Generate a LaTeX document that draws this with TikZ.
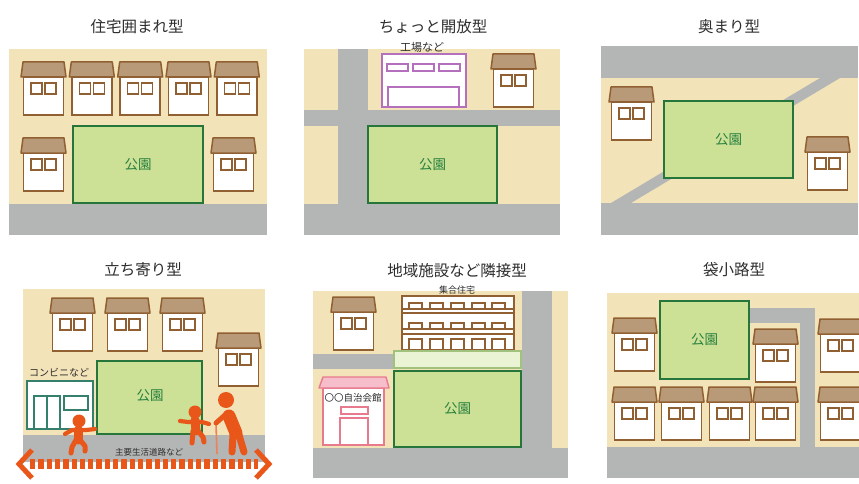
\documentclass[tikz,border=0pt]{standalone}
\usepackage{fontspec}
\newfontfamily\jp{Noto Sans CJK JP}
\definecolor{groundc}{RGB}{243,227,184}
\definecolor{roadc}{RGB}{180,181,181}
\definecolor{parkc}{RGB}{204,224,150}
\definecolor{parkline}{RGB}{38,118,60}
\definecolor{parktext}{RGB}{40,128,62}
\definecolor{roofc}{RGB}{184,154,120}
\definecolor{brownline}{RGB}{145,96,50}
\definecolor{titlec}{RGB}{45,45,45}
\definecolor{factoryc}{RGB}{180,112,188}
\definecolor{storec}{RGB}{52,128,108}
\definecolor{hallc}{RGB}{232,122,142}
\definecolor{hallroof}{RGB}{245,190,202}
\definecolor{stripc}{RGB}{234,243,211}
\definecolor{stripline}{RGB}{160,194,124}
\definecolor{personc}{RGB}{232,86,26}
\definecolor{canec}{RGB}{236,130,90}
\begin{document}
\begin{tikzpicture}[x=1pt,y=-1pt,
  ground/.style={fill=groundc},
  road/.style={fill=roadc},
  park/.style={draw=parkline, fill=parkc, line width=1.4pt, inner sep=0,
    font=\jp\fontsize{13.5}{14}\selectfont, text=parktext},
  title/.style={font=\jp\fontsize{15.5}{16}\selectfont, text=titlec, inner sep=0},
  tag/.style={font=\jp\fontsize{9.5}{10}\selectfont, text=titlec, inner sep=0},
  wall/.style={draw=brownline, fill=white, line width=1.5pt},
  roof/.style={draw=brownline, fill=roofc, line width=1.5pt, line join=round},
  win/.style={draw=brownline, fill=white, line width=1.4pt},
  person/.style={fill=personc},
  limb/.style={draw=personc, line cap=round, line join=round},
  pics/house/.style={code={
    \draw[wall] (2.5,15) rectangle (42.5,53);
    \draw[roof] (0,15) -- (2,0) -- (43,0) -- (45,15) -- cycle;
    \draw[win] (10,21) rectangle (21,32);
    \draw[win] (24,21) rectangle (35,32);
  }}]
\useasboundingbox (0,0) rectangle (859,484);
\clip (0,0) rectangle (859,484);

% ---------- 住宅囲まれ型 ----------
\node[title] (t1) at (137,27) {住宅囲まれ型};
\fill[ground] (9,49) rectangle (267,204);
\fill[road] (9,204) rectangle (267,235);
\foreach \hx in {21,69.3,117.7,166,214.3} \pic at (\hx,62) {house};
\pic at (21,138) {house};
\pic at (211,138) {house};
\node[park, minimum width=130, minimum height=77] (park1) at (138,164.5) {公園};

% ---------- ちょっと開放型 ----------
\node[title] (t2) at (433,27) {ちょっと開放型};
\fill[ground] (304,49) rectangle (560,204);
\fill[road] (338,49) rectangle (368,204);
\fill[road] (304,110) rectangle (560,126);
\fill[road] (304,204) rectangle (560,235);
% factory
\draw[draw=factoryc, fill=white, line width=1.4pt] (382,54) rectangle (466,107);
\foreach \wx in {387,413,439} \draw[draw=factoryc, line width=1.3pt] (\wx,64) rectangle ++(21,7);
\draw[draw=factoryc, line width=1.3pt] (388,107) -- (388,87) -- (459,87) -- (459,107);
\node[tag, font=\jp\fontsize{11}{12}\selectfont] (factorytag) at (422,47) {工場など};
\pic at (491,54) {house};
\node[park, minimum width=129, minimum height=77] (park2) at (432.5,164.5) {公園};

% ---------- 奥まり型 ----------
\node[title] (t3) at (729,27) {奥まり型};
\fill[road] (601,46) rectangle (858,78);
\fill[ground] (601,78) rectangle (858,203);
\fill[road] (601,203) rectangle (858,235);
\fill[road] (611,203) -- (631,203) -- (840,78) -- (820,78) -- cycle;
\node[park, minimum width=129, minimum height=77] (park3) at (728.5,139.5) {公園};
\pic at (609,87) {house};
\pic at (805,137) {house};

% ---------- 立ち寄り型 ----------
\node[title] (t4) at (143,270) {立ち寄り型};
\fill[ground] (23,289) rectangle (265,435);
\fill[road] (23,435) rectangle (265,462);
\foreach \hx in {50,105,160} \pic at (\hx,298) {house};
\pic at (216,333) {house};
\node[park, minimum width=105, minimum height=73] (park4) at (149.5,397.5) {};
\node[font=\jp\fontsize{13.5}{14}\selectfont, text=parktext] (park4tag) at (150,396) {公園};
% convenience store
\node[tag, font=\jp\fontsize{10}{11}\selectfont] (storetag) at (59,373) {コンビニなど};
\draw[draw=storec, fill=white, line width=1.4pt] (27,381) rectangle (93,429);
\draw[draw=storec, line width=1.3pt] (34,429) -- (34,396) -- (60,396) -- (60,429);
\draw[draw=storec, line width=1.3pt] (47,396) -- (47,429);
\draw[draw=storec, line width=1.3pt] (64,396) rectangle (88,410);
% road label and two-way arrow
\node[tag, font=\jp\fontsize{8.5}{9}\selectfont] (roadtag) at (149,452) {主要生活道路など};
\coordinate (arrowL) at (30,464);
\coordinate (arrowR) at (258,464);
\draw[personc, line width=10pt, dash pattern=on 5.3pt off 3pt] (arrowL) -- (arrowR);
\draw[personc, line width=5pt] (32,450) -- (19,464) -- (32,478);
\draw[personc, line width=5pt] (256,450) -- (269,464) -- (256,478);
% child walking
\fill[person] (79,421) circle (6.5);
\draw[limb, line width=9pt] (78,430) -- (78,440);
\draw[limb, line width=4.2pt] (65,434) -- (72,430) -- (86,430) -- (95,429);
\draw[limb, line width=5pt] (76,440) -- (72,447) -- (71,453);
\draw[limb, line width=5pt] (80,440) -- (85,446) -- (85,451);
% child by the elder
\fill[person] (195,412) circle (6.5);
\draw[limb, line width=9pt] (195,420) -- (196,431);
\draw[limb, line width=4.2pt] (180,421) -- (188,422) -- (202,422) -- (209,424);
\draw[limb, line width=5pt] (193,431) -- (192,443);
\draw[limb, line width=5pt] (198,431) -- (203,437) -- (204,442);
% elder with cane
\draw[canec, line width=1.6pt] (216,424) -- (217,454);
\fill[person] (226,400) circle (8);
\draw[limb, line width=13pt] (229,416) -- (236,433);
\draw[limb, line width=5pt] (225,415) -- (216,423);
\draw[limb, line width=7pt] (233,435) -- (232,452);
\draw[limb, line width=7pt] (239,435) -- (244,452);

% ---------- 地域施設など隣接型 ----------
\node[title] (t5) at (457,271) {地域施設など隣接型};
\fill[ground] (313,291) rectangle (568,448);
\fill[road] (522,291) rectangle (552,448);
\fill[road] (313,354) rectangle (393,369);
\fill[road] (313,448) rectangle (568,478);
\pic at (331,297) {house};
% apartment block
\draw[wall] (402,296) rectangle (514,350);
\foreach \fy in {309,313,329,334} \draw[brownline, line width=1.2pt] (402,\fy) -- (514,\fy);
\foreach \wx in {409,430,451,472,492} {
  \draw[win] (\wx,303) rectangle ++(13,6);
  \draw[win] (\wx,323) rectangle ++(13,6);
  \draw[win] (\wx,339) rectangle ++(13,11);
}
\node[tag, font=\jp\fontsize{9}{10}\selectfont] (apttag) at (457,290) {集合住宅};
\draw[draw=stripline, fill=stripc, line width=1.4pt] (394,351) rectangle (521,368);
\node[park, minimum width=127, minimum height=76] (park5) at (457.5,409) {公園};
% community hall
\draw[draw=hallc, fill=white, line width=1.4pt] (323,388) rectangle (384,445);
\draw[draw=hallc, fill=hallroof, line width=1.4pt, line join=round] (319,388) -- (323,377) -- (386,377) -- (389,388) -- cycle;
\node[tag, font=\jp\fontsize{9.5}{10}\selectfont] (halltag) at (353,398) {〇〇自治会館};
\draw[draw=hallc, line width=1.3pt] (341,407) rectangle (368,414);
\draw[draw=hallc, line width=1.3pt] (340,445) -- (340,418) -- (368,418) -- (368,445);

% ---------- 袋小路型 ----------
\node[title] (t6) at (734,270) {袋小路型};
\fill[ground] (607,293) rectangle (859,447);
\fill[road] (749,308) rectangle (815,323);
\fill[road] (800,308) rectangle (815,447);
\fill[road] (607,447) rectangle (859,478);
\node[park, minimum width=89, minimum height=78] (park6) at (704.5,340) {公園};
\pic at (612,318) {house};
\pic at (753,329) {house};
\pic at (818,319) {house};
\foreach \hx in {612,659,707,753,818} \pic at (\hx,387) {house};
\end{tikzpicture}
\end{document}
